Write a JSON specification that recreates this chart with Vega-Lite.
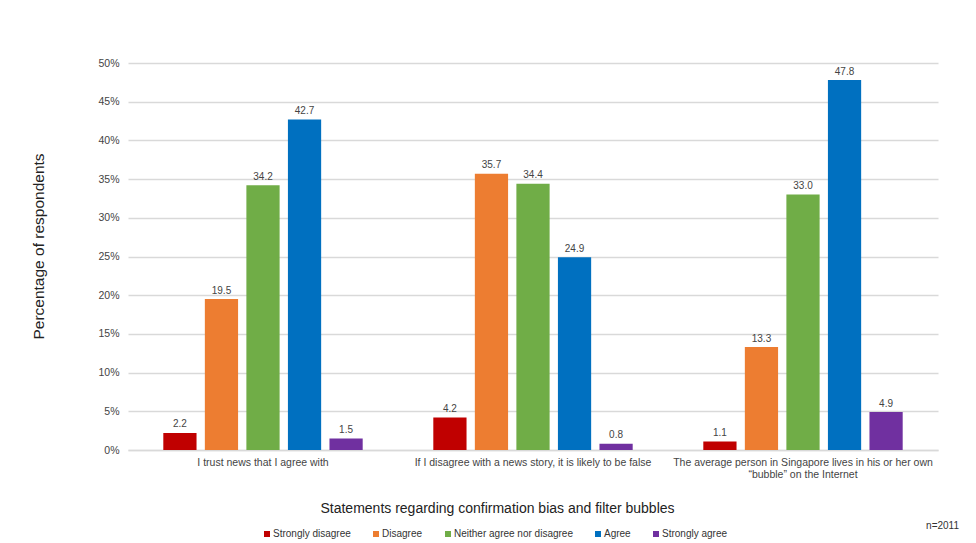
{
  "$schema": "https://vega.github.io/schema/vega-lite/v6.json",
  "autosize": {"type": "none"},
  "width": 810,
  "height": 387,
  "padding": {"left": 128, "top": 63, "right": 38, "bottom": 93},
  "background": "white",
  "config": {
    "font": "Liberation Sans",
    "view": {"stroke": null}
  },
  "title": {
    "text": "n=2011",
    "orient": "bottom",
    "anchor": "end",
    "frame": "group",
    "fontSize": 10,
    "fontWeight": "normal",
    "color": "#333333",
    "dx": 21,
    "dy": -22,
    "offset": 4
  },
  "data": {
    "values": [
      {"statement": "I trust news that I agree with", "response": "Strongly disagree", "pct": 2.2},
      {"statement": "I trust news that I agree with", "response": "Disagree", "pct": 19.5},
      {"statement": "I trust news that I agree with", "response": "Neither agree nor disagree", "pct": 34.2},
      {"statement": "I trust news that I agree with", "response": "Agree", "pct": 42.7},
      {"statement": "I trust news that I agree with", "response": "Strongly agree", "pct": 1.5},
      {"statement": "If I disagree with a news story, it is likely to be false", "response": "Strongly disagree", "pct": 4.2},
      {"statement": "If I disagree with a news story, it is likely to be false", "response": "Disagree", "pct": 35.7},
      {"statement": "If I disagree with a news story, it is likely to be false", "response": "Neither agree nor disagree", "pct": 34.4},
      {"statement": "If I disagree with a news story, it is likely to be false", "response": "Agree", "pct": 24.9},
      {"statement": "If I disagree with a news story, it is likely to be false", "response": "Strongly agree", "pct": 0.8},
      {"statement": "The average person in Singapore lives in his or her own “bubble” on the Internet", "response": "Strongly disagree", "pct": 1.1},
      {"statement": "The average person in Singapore lives in his or her own “bubble” on the Internet", "response": "Disagree", "pct": 13.3},
      {"statement": "The average person in Singapore lives in his or her own “bubble” on the Internet", "response": "Neither agree nor disagree", "pct": 33.0},
      {"statement": "The average person in Singapore lives in his or her own “bubble” on the Internet", "response": "Agree", "pct": 47.8},
      {"statement": "The average person in Singapore lives in his or her own “bubble” on the Internet", "response": "Strongly agree", "pct": 4.9}
    ]
  },
  "encoding": {
    "x": {
      "field": "statement",
      "type": "nominal",
      "sort": null,
      "scale": {"paddingInner": 0, "paddingOuter": 0},
      "axis": {
        "title": "Statements regarding confirmation bias and filter bubbles",
        "titleFontSize": 14,
        "titleFontWeight": "normal",
        "titleColor": "#222222",
        "titleX": 369,
        "titleY": 58,
        "titleBaseline": "middle",
        "titleAlign": "center",
        "labelAngle": 0,
        "labelFontSize": 10.5,
        "labelColor": "#444444",
        "labelLimit": 400,
        "labelPadding": 7,
        "labelLineHeight": 12,
        "labelBaseline": "top",
        "labelExpr": "datum.value == 'The average person in Singapore lives in his or her own “bubble” on the Internet' ? ['The average person in Singapore lives in his or her own', '“bubble” on the Internet'] : datum.value",
        "ticks": false,
        "tickSize": 0,
        "domainColor": "#D9D9D9",
        "domainWidth": 1.5
      }
    },
    "xOffset": {
      "field": "response",
      "type": "nominal",
      "sort": ["Strongly disagree", "Disagree", "Neither agree nor disagree", "Agree", "Strongly agree"],
      "scale": {"paddingInner": 0.2, "paddingOuter": 0.85}
    },
    "y": {
      "field": "pct",
      "type": "quantitative",
      "scale": {"domain": [0, 50], "nice": false},
      "axis": {
        "title": "Percentage of respondents",
        "titleFontSize": 15.5,
        "titleFontWeight": "normal",
        "titleColor": "#222222",
        "titleX": -90,
        "titleY": 183,
        "titleAngle": -90,
        "titleAlign": "center",
        "titleBaseline": "middle",
        "values": [0, 5, 10, 15, 20, 25, 30, 35, 40, 45, 50],
        "labelExpr": "datum.value + '%'",
        "labelFontSize": 10.5,
        "labelColor": "#444444",
        "labelPadding": 9,
        "ticks": false,
        "tickSize": 0,
        "domain": false,
        "gridColor": "#D9D9D9",
        "gridWidth": 1.5
      }
    }
  },
  "layer": [
    {
      "mark": {"type": "bar"},
      "encoding": {
        "color": {
          "field": "response",
          "type": "nominal",
          "sort": ["Strongly disagree", "Disagree", "Neither agree nor disagree", "Agree", "Strongly agree"],
          "scale": {
            "domain": ["Strongly disagree", "Disagree", "Neither agree nor disagree", "Agree", "Strongly agree"],
            "range": ["#C00000", "#ED7D31", "#70AD47", "#0070C0", "#7030A0"]
          },
          "legend": {
            "title": null,
            "orient": "none",
            "direction": "horizontal",
            "legendX": 134,
            "legendY": 466,
            "padding": 0,
            "symbolType": "square",
            "symbolSize": 36,
            "symbolStrokeWidth": 0,
            "labelFontSize": 10,
            "labelColor": "#333333",
            "labelOffset": 1,
            "columnPadding": 20,
            "labelLimit": 300
          }
        }
      }
    },
    {
      "mark": {"type": "text", "baseline": "alphabetic", "dy": -5.5, "fontSize": 10, "color": "#444444"},
      "encoding": {
        "text": {"field": "pct", "type": "quantitative", "format": ".1f"}
      }
    }
  ]
}
